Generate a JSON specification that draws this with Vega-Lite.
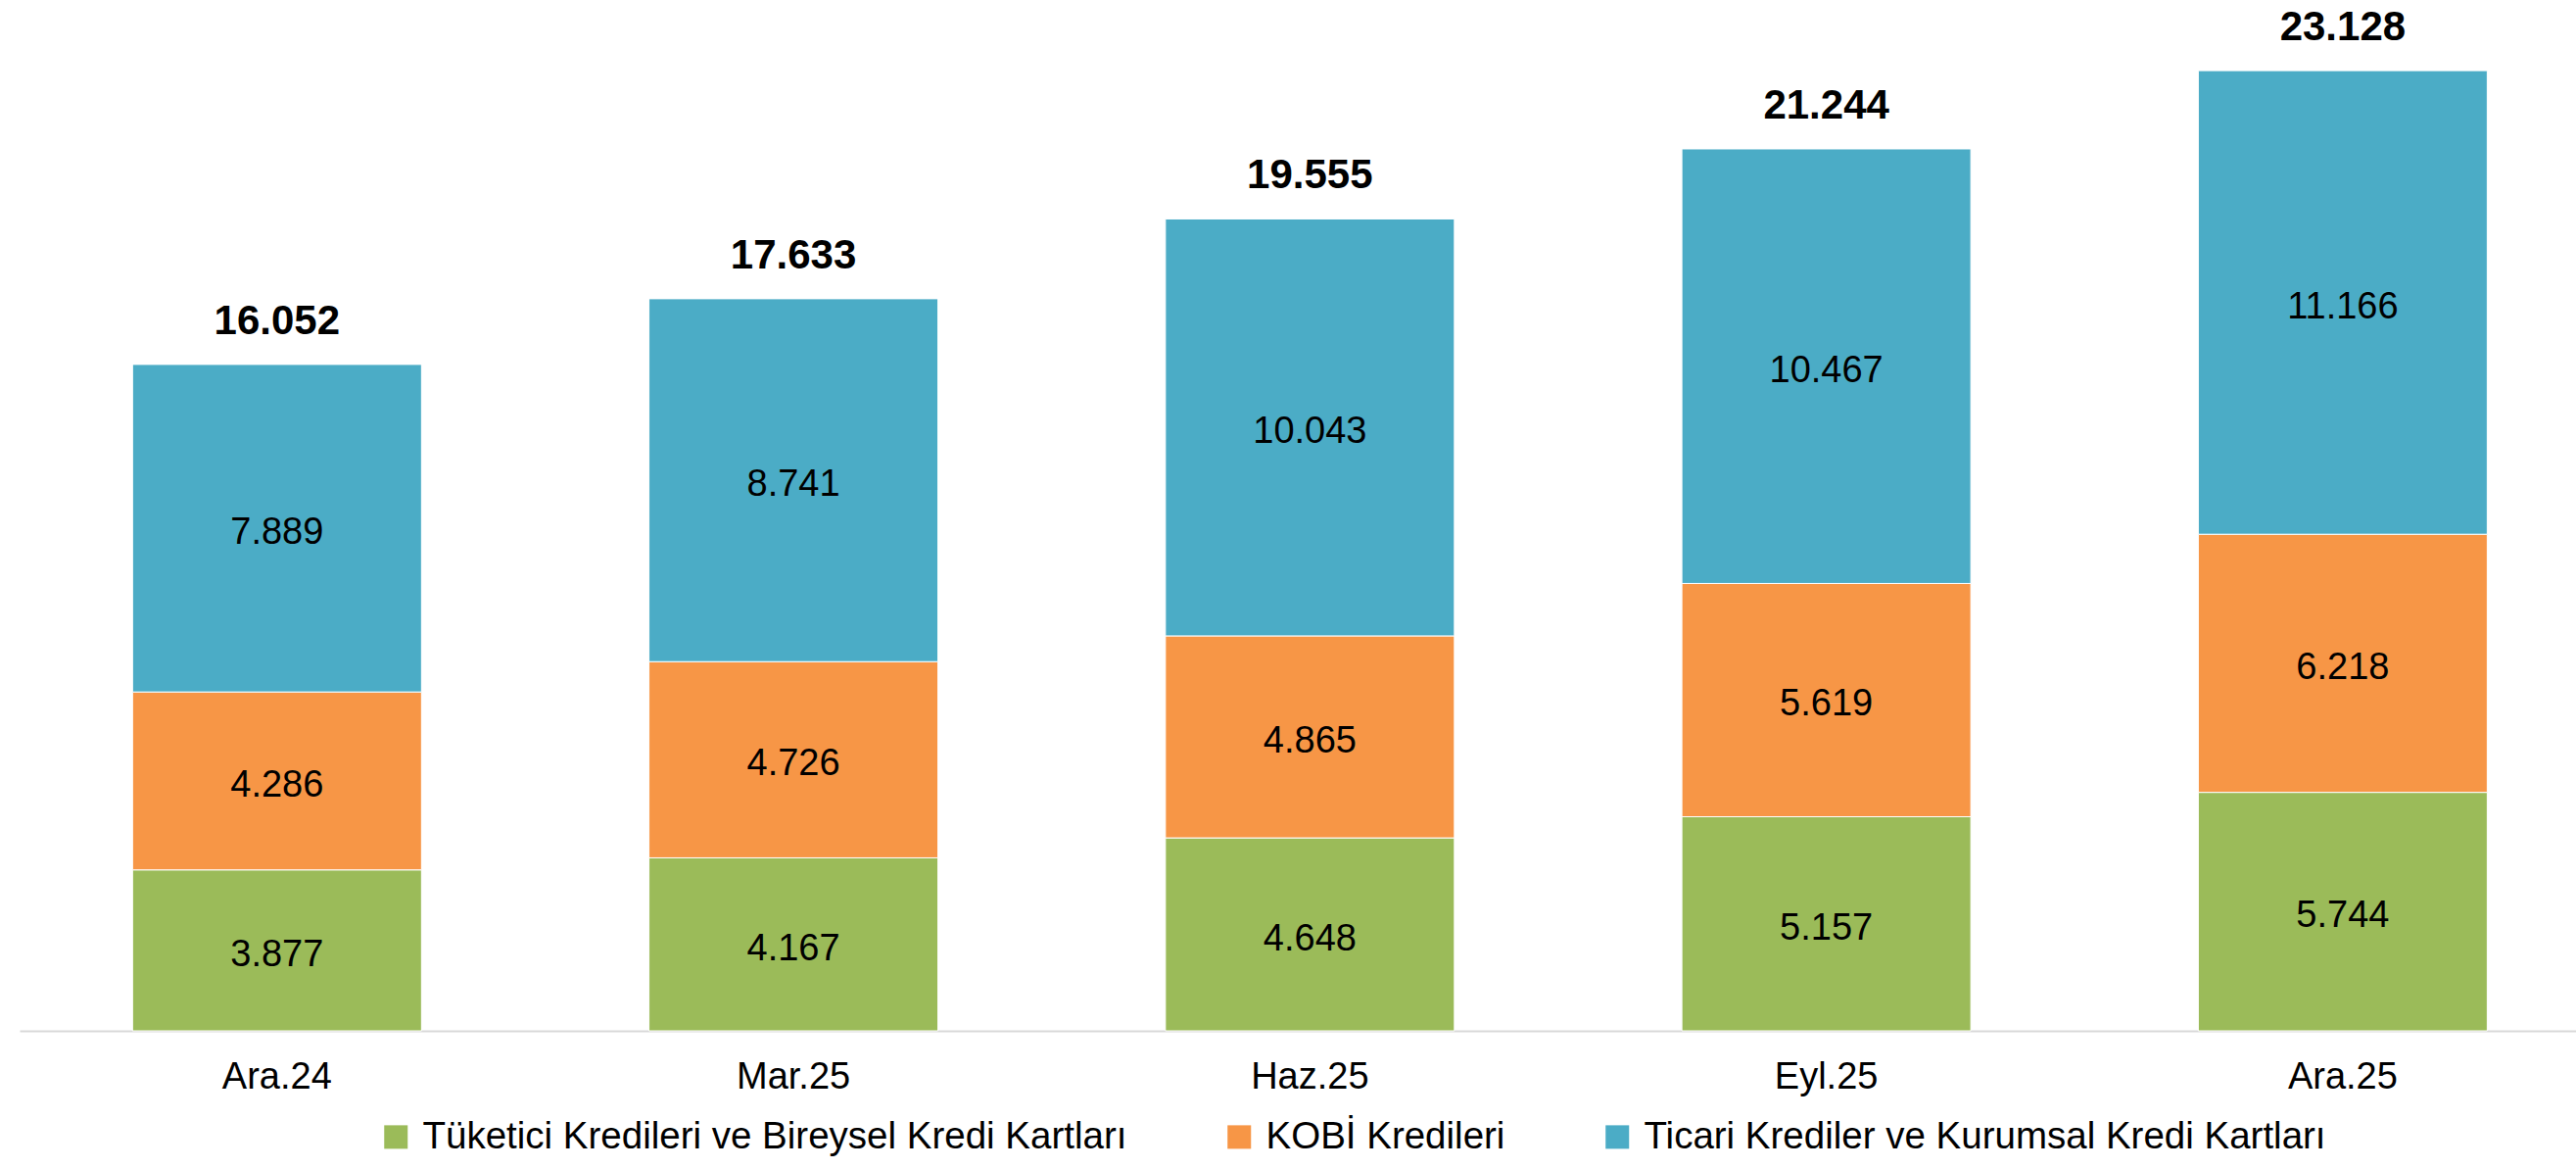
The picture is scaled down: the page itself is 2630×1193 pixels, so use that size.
{
  "$schema": "https://vega.github.io/schema/vega-lite/v6.json",
  "width": 2610,
  "height": 1052,
  "autosize": {"type": "none"},
  "padding": {"left": 20, "top": 0, "right": 0, "bottom": 141},
  "background": "white",
  "config": {
    "view": {"stroke": null},
    "locale": {"number": {"decimal": ",", "thousands": ".", "grouping": [3], "currency": ["", " TL"]}},
    "font": "Liberation Sans"
  },
  "datasets": {
    "seg": [
      {"d": "Ara.24", "cat": "Tüketici Kredileri ve Bireysel Kredi Kartları", "sira": 1, "v": 3877},
      {"d": "Ara.24", "cat": "KOBİ Kredileri", "sira": 2, "v": 4286},
      {"d": "Ara.24", "cat": "Ticari Krediler ve Kurumsal Kredi Kartları", "sira": 3, "v": 7889},
      {"d": "Mar.25", "cat": "Tüketici Kredileri ve Bireysel Kredi Kartları", "sira": 1, "v": 4167},
      {"d": "Mar.25", "cat": "KOBİ Kredileri", "sira": 2, "v": 4726},
      {"d": "Mar.25", "cat": "Ticari Krediler ve Kurumsal Kredi Kartları", "sira": 3, "v": 8741},
      {"d": "Haz.25", "cat": "Tüketici Kredileri ve Bireysel Kredi Kartları", "sira": 1, "v": 4648},
      {"d": "Haz.25", "cat": "KOBİ Kredileri", "sira": 2, "v": 4865},
      {"d": "Haz.25", "cat": "Ticari Krediler ve Kurumsal Kredi Kartları", "sira": 3, "v": 10043},
      {"d": "Eyl.25", "cat": "Tüketici Kredileri ve Bireysel Kredi Kartları", "sira": 1, "v": 5157},
      {"d": "Eyl.25", "cat": "KOBİ Kredileri", "sira": 2, "v": 5619},
      {"d": "Eyl.25", "cat": "Ticari Krediler ve Kurumsal Kredi Kartları", "sira": 3, "v": 10467},
      {"d": "Ara.25", "cat": "Tüketici Kredileri ve Bireysel Kredi Kartları", "sira": 1, "v": 5744},
      {"d": "Ara.25", "cat": "KOBİ Kredileri", "sira": 2, "v": 6218},
      {"d": "Ara.25", "cat": "Ticari Krediler ve Kurumsal Kredi Kartları", "sira": 3, "v": 11166}
    ],
    "tot": [
      {"d": "Ara.24", "t": 16052},
      {"d": "Mar.25", "t": 17633},
      {"d": "Haz.25", "t": 19555},
      {"d": "Eyl.25", "t": 21244},
      {"d": "Ara.25", "t": 23128}
    ]
  },
  "layer": [
    {
      "data": {"name": "seg"},
      "transform": [
        {"stack": "v", "groupby": ["d"], "sort": [{"field": "sira", "order": "ascending"}], "as": ["y0", "y1"]}
      ],
      "mark": {"type": "bar", "stroke": "white", "strokeWidth": 1},
      "encoding": {
        "x": {
          "field": "d", "type": "nominal",
          "sort": ["Ara.24", "Mar.25", "Haz.25", "Eyl.25", "Ara.25"],
          "scale": {"paddingInner": 0.4405, "paddingOuter": 0.1953, "align": 0.56},
          "axis": {
            "title": null, "labelAngle": 0, "ticks": false, "tickSize": 0,
            "labelPadding": 28, "labelFontSize": 38, "labelColor": "#000000",
            "labelFont": "Liberation Sans",
            "domainColor": "#d9d9d9", "domainWidth": 2, "grid": false
          }
        },
        "y": {"field": "y0", "type": "quantitative", "scale": {"domain": [0, 24830], "nice": false, "zero": true}, "axis": null},
        "y2": {"field": "y1"},
        "color": {
          "field": "cat", "type": "nominal",
          "scale": {
            "domain": ["Tüketici Kredileri ve Bireysel Kredi Kartları", "KOBİ Kredileri", "Ticari Krediler ve Kurumsal Kredi Kartları"],
            "range": ["#9BBB59", "#F79646", "#4BACC6"]
          },
          "legend": {
            "title": null, "orient": "none", "direction": "horizontal", "columns": 3,
            "legendX": 365, "legendY": 1141, "padding": 0,
            "symbolType": "square", "symbolSize": 576, "symbolStrokeWidth": 0, "symbolOpacity": 1,
            "labelFontSize": 38.5, "labelFont": "Liberation Sans", "labelColor": "#000000",
            "labelOffset": 8, "columnPadding": 95, "labelLimit": 1000
          }
        }
      }
    },
    {
      "data": {"name": "seg"},
      "transform": [
        {"stack": "v", "groupby": ["d"], "sort": [{"field": "sira", "order": "ascending"}], "as": ["y0", "y1"]},
        {"fold": ["y0", "y1"], "as": ["k", "pos"]}
      ],
      "mark": {"type": "text", "fontSize": 38, "font": "Liberation Sans", "color": "#000000", "baseline": "middle", "align": "center", "dy": 5},
      "encoding": {
        "x": {"field": "d", "type": "nominal", "sort": ["Ara.24", "Mar.25", "Haz.25", "Eyl.25", "Ara.25"]},
        "y": {"aggregate": "mean", "field": "pos", "type": "quantitative", "scale": {"domain": [0, 24830], "nice": false}},
        "detail": {"field": "cat", "type": "nominal"},
        "text": {"field": "v", "type": "quantitative", "format": ",d"}
      }
    },
    {
      "data": {"name": "tot"},
      "mark": {"type": "text", "fontSize": 42, "fontWeight": "bold", "font": "Liberation Sans", "color": "#000000", "baseline": "alphabetic", "align": "center", "dy": -31},
      "encoding": {
        "x": {"field": "d", "type": "nominal", "sort": ["Ara.24", "Mar.25", "Haz.25", "Eyl.25", "Ara.25"]},
        "y": {"field": "t", "type": "quantitative", "scale": {"domain": [0, 24830], "nice": false}},
        "text": {"field": "t", "type": "quantitative", "format": ",d"}
      }
    }
  ]
}
